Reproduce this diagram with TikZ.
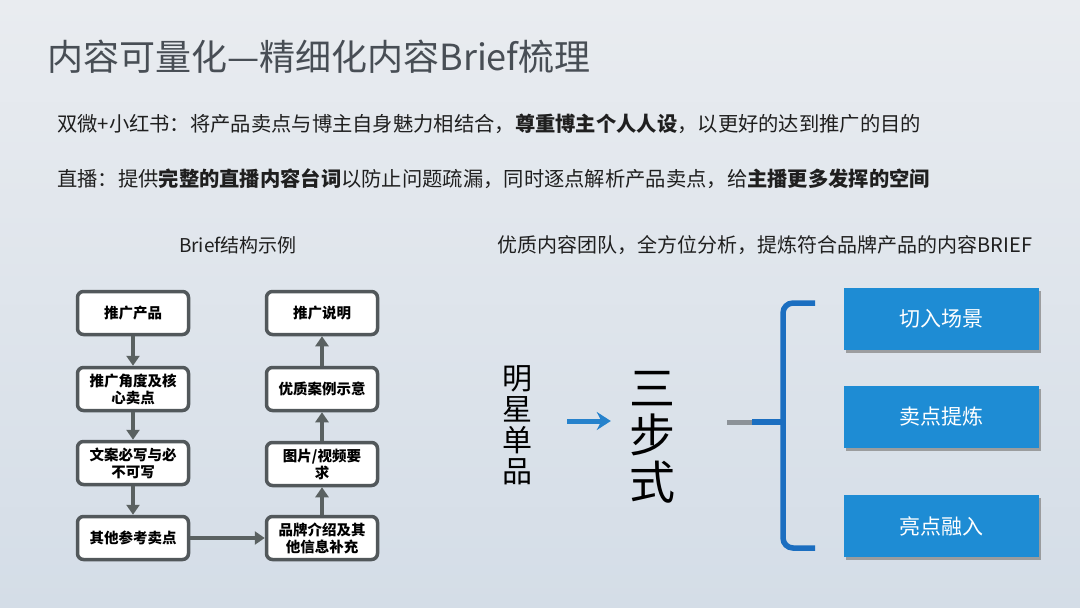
\documentclass[tikz,border=0pt]{standalone}
\usepackage{fontspec}
\setmainfont{Noto Sans CJK SC}
\usetikzlibrary{arrows.meta,shadows}

\definecolor{bgtop}{RGB}{233,236,240}
\definecolor{bgbot}{RGB}{212,221,231}
\definecolor{titlegray}{RGB}{72,78,85}
\definecolor{boxline}{RGB}{82,88,91}
\definecolor{flowarrow}{RGB}{90,97,97}
\definecolor{stepblue}{RGB}{30,140,212}
\definecolor{bracketblue}{RGB}{27,110,192}
\definecolor{arrowblue}{RGB}{38,130,204}
\definecolor{stemgray}{RGB}{140,146,152}

\tikzset{
    bf box/.style={rectangle, rounded corners=6pt, draw=boxline,
                   line width=3.5pt, fill=white, minimum width=111pt,
                   minimum height=43pt, align=center, inner sep=2pt,
                   font=\fontsize{14.5}{17}\selectfont\bfseries},
    bf arrow/.style={-{Triangle[length=10pt,width=13pt]}, line width=3.5pt,
                     flowarrow},
    step box/.style={rectangle, fill=stepblue, minimum width=195pt,
                     minimum height=62pt, text=white,
                     font=\fontsize{21}{24}\selectfont,
                     drop shadow={shadow xshift=2.5pt, shadow yshift=-2.5pt,
                                  fill=black!45, opacity=.8}},
    body text/.style={anchor=west, text=black!88, inner sep=0pt,
                      font=\fontsize{20.3}{24}\selectfont},
    head text/.style={text=black!88, inner sep=0pt,
                      font=\fontsize{19}{23}\selectfont},
    bracket line/.style={line width=5.5pt, bracketblue},
}

\begin{document}
\begin{tikzpicture}[x=1pt, y=-1pt]
    \shade[top color=bgtop, bottom color=bgbot] (0,0) rectangle (1080,608);
    \useasboundingbox (0,0) rectangle (1080,608);

    % Title
    \node[anchor=west, inner sep=0pt, text=titlegray,
          font=\fontsize{36}{40}\selectfont] (title) at (47,57)
          {内容可量化—精细化内容Brief梳理};

    % Two text lines
    \node[body text] (line1) at (57,124)
        {双微+小红书：将产品卖点与博主自身魅力相结合，{\bfseries 尊重博主个人人设}，以更好的达到推广的目的};
    \node[body text] (line2) at (57,179)
        {直播：提供{\bfseries 完整的直播内容台词}以防止问题疏漏，同时逐点解析产品卖点，给{\bfseries 主播更多发挥的空间}};

    % Headings
    \node[head text] (lhead) at (238,245) {Brief结构示例};
    \node[head text, font=\fontsize{20}{24}\selectfont] (rhead) at (765,245)
        {优质内容团队，全方位分析，提炼符合品牌产品的内容BRIEF};

    % Left column (top to bottom)
    \node[bf box] (l1) at (133,313) {推广产品};
    \node[bf box] (l2) at (133,389) {推广角度及核\\心卖点};
    \node[bf box] (l3) at (133,463) {文案必写与必\\不可写};
    \node[bf box] (l4) at (133,538) {其他参考卖点};
    % Right column (bottom to top)
    \node[bf box] (r1) at (322,538) {品牌介绍及其\\他信息补充};
    \node[bf box] (r2) at (322,464) {图片/视频要\\求};
    \node[bf box] (r3) at (322,389) {优质案例示意};
    \node[bf box] (r4) at (322,313) {推广说明};

    \draw[bf arrow] (l1) -- (l2);
    \draw[bf arrow] (l2) -- (l3);
    \draw[bf arrow] (l3) -- (l4);
    \draw[bf arrow] (l4) -- (r1);
    \draw[bf arrow] (r1) -- (r2);
    \draw[bf arrow] (r2) -- (r3);
    \draw[bf arrow] (r3) -- (r4);

    % Star product -> three steps
    \node[inner sep=0pt, align=center, font=\fontsize{30}{31}\selectfont]
        (star) at (517,425) {明\\星\\单\\品};
    \node[inner sep=0pt, align=center, font=\fontsize{46}{47}\selectfont]
        (steps) at (652,437) {三\\步\\式};
    \draw[-{Stealth[length=14pt,width=18pt]}, line width=5pt, arrowblue,
          shorten <=35pt, shorten >=18pt] (star.east |- 0,421) -- (steps.west |- 0,421);

    % Bracket
    \coordinate (stem0) at (727,422);
    \coordinate (stem1) at (752,422);
    \coordinate (brmid) at (783,422);
    \coordinate (brtop) at (815,303);
    \coordinate (brbot) at (815,548);
    \draw[bracket line, rounded corners=10pt]
        (brtop) -- (brmid |- brtop) -- (brmid |- brbot) -- (brbot);
    \draw[line width=5pt, stemgray] (stem0) -- (stem1);
    \draw[line width=5.5pt, bracketblue] (stem1) -- (brmid);

    % Three steps
    \node[step box] (s1) at (941,319) {切入场景};
    \node[step box] (s2) at (941,417) {卖点提炼};
    \node[step box] (s3) at (941,526) {亮点融入};
\end{tikzpicture}
\end{document}
